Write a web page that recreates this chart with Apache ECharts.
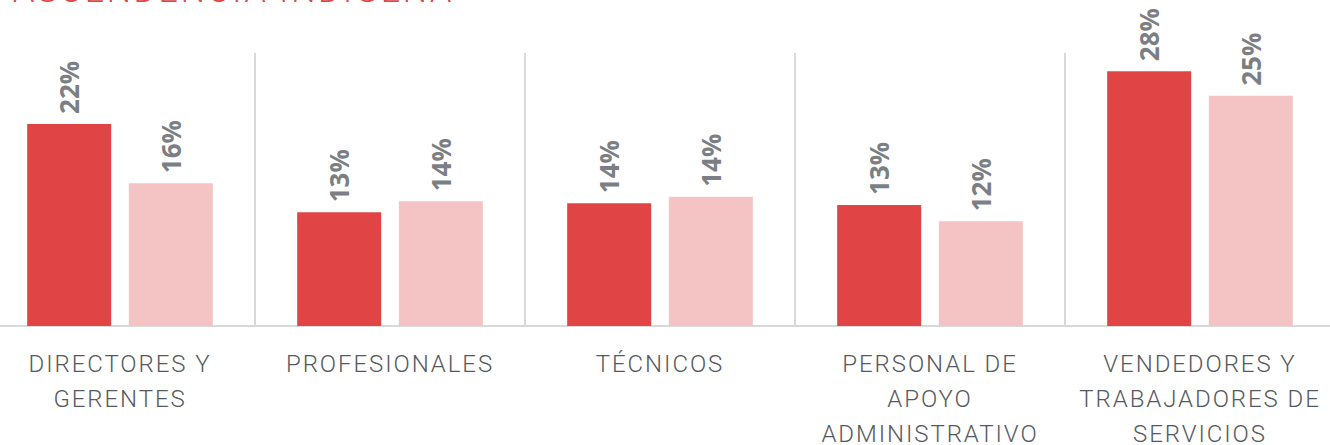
<!DOCTYPE html>
<html>
<head>
<meta charset="utf-8">
<script src="https://cdn.jsdelivr.net/npm/echarts@6/dist/echarts.min.js"></script>
<style>
  html, body { margin: 0; padding: 0; background: #fff; }
  #chart { width: 1330px; height: 445px; }
  /* spaced caps for category names and title */
  #chart text[style*="Roboto"] { letter-spacing: 0.08em; }
</style>
</head>
<body>
<div id="chart"></div>
<script>
const titleText = "ASCENDENCIA INDÍGENA";
const categories = [
  "DIRECTORES Y\nGERENTES",
  "PROFESIONALES",
  "TÉCNICOS",
  "PERSONAL DE\nAPOYO\nADMINISTRATIVO",
  "VENDEDORES Y\nTRABAJADORES DE\nSERVICIOS",
];
const seriesA = [22.2, 12.5, 13.5, 13.3, 28.0];
const seriesB = [15.7, 13.7, 14.2, 11.5, 25.3];

const RED = "#E04444";
const PINK = "#F4C3C3";
const GRID_GREY = "#D9D9D9";
const LABEL_GREY = "#7B7F84";

const valueLabel = {
  show: true,
  position: "top",
  distance: 10,
  rotate: 90,
  align: "left",
  verticalAlign: "middle",
  fontFamily: "Open Sans",
  fontWeight: "bold",
  fontSize: 26,
  color: LABEL_GREY,
  formatter: (p) => Math.round(p.value) + "%",
};

const chart = echarts.init(document.getElementById("chart"), null, { renderer: "svg" });

chart.setOption({
  animation: false,
  title: {
    text: titleText,
    left: 8,
    top: -32,
    textStyle: {
      fontFamily: "Roboto",
      fontWeight: 300,
      fontSize: 34,
      color: RED,
    },
  },
  grid: {
    left: -15,
    right: -5,
    top: 53,
    bottom: 119,
    containLabel: false,
    outerBoundsMode: "none",
  },
  xAxis: {
    type: "category",
    data: categories,
    axisLine: { lineStyle: { color: GRID_GREY, width: 2 } },
    axisTick: { show: false },
    splitLine: { show: true, lineStyle: { color: GRID_GREY, width: 2 } },
    axisLabel: {
      interval: 0,
      margin: 20,
      fontFamily: "Roboto",
      fontWeight: 300,
      fontSize: 24,
      lineHeight: 35,
      color: "#555A5E",
    },
  },
  yAxis: {
    type: "value",
    min: 0,
    max: 30,
    show: false,
  },
  series: [
    {
      name: "A",
      type: "bar",
      data: seriesA,
      barWidth: 84,
      barGap: "21%",
      itemStyle: { color: RED },
      label: valueLabel,
    },
    {
      name: "B",
      type: "bar",
      data: seriesB,
      barWidth: 84,
      itemStyle: { color: PINK },
      label: valueLabel,
    },
  ],
});
</script>
</body>
</html>
